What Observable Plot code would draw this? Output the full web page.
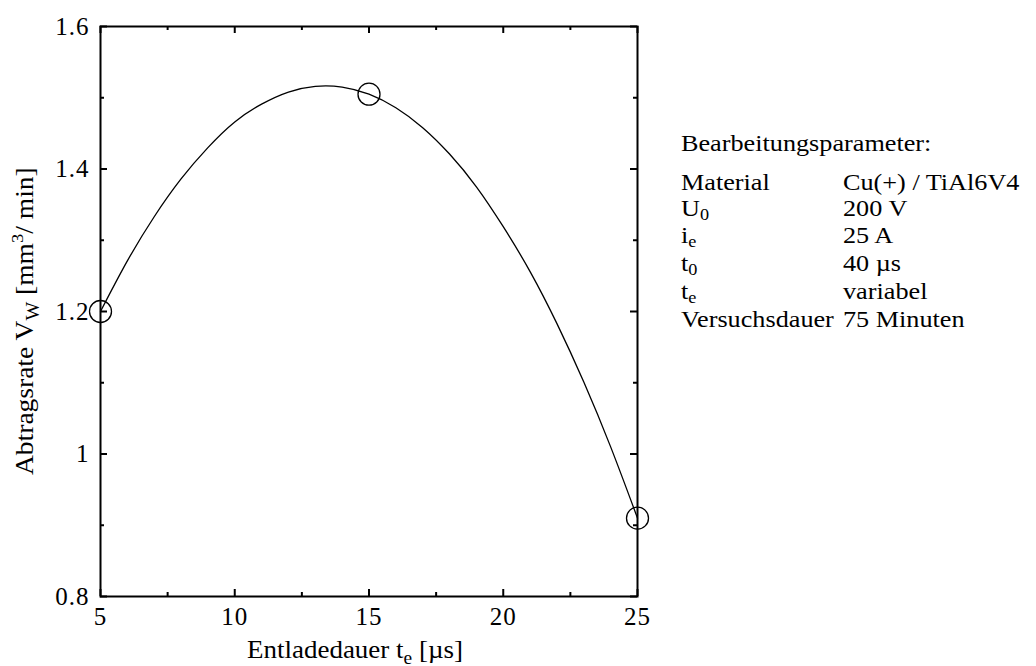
<!DOCTYPE html>
<html>
<head>
<meta charset="utf-8">
<script src="https://cdn.jsdelivr.net/npm/d3@7"></script>
<script src="https://cdn.jsdelivr.net/npm/@observablehq/plot@0.6"></script>
<style>
  html, body { margin: 0; padding: 0; background: #fff; }
  #chart { width: 1036px; height: 666px; }
</style>
</head>
<body>
<div id="chart"></div>
<script>
// Measured removal rate at three discharge durations
const dischargeTime = [5, 15, 25];               // t_e [µs]
const removalRate = [1.2, 1.505, 0.91];           // V_W [mm³/min]

// Fitted trend curve through the measurements
const fitTime = [5, 6, 7, 8, 9, 10, 11, 12, 13, 14, 15, 16, 17, 18, 19, 20, 21, 22, 23, 24, 25];
const fitRate = [1.200, 1.271, 1.333, 1.386, 1.430, 1.466, 1.491, 1.508, 1.516, 1.515, 1.505,
                 1.486, 1.458, 1.421, 1.375, 1.319, 1.256, 1.183, 1.101, 1.010, 0.910];

// Axis ticks
const xMajor = [5, 10, 15, 20, 25];
const xMinor = [7.5, 12.5, 17.5, 22.5];
const yMajor = [0.8, 1, 1.2, 1.4, 1.6];
const yMinor = [0.9, 1.1, 1.3, 1.5];

// Machining parameters listed beside the chart
const paramHeading = "Bearbeitungsparameter:";
const paramName = ["Material", "U", "i", "t", "t", "Versuchsdauer"];
const paramSub = ["", "0", "e", "0", "e", ""];
const paramValue = ["Cu(+) / TiAl6V4", "200 V", "25 A", "40 µs", "variabel", "75 Minuten"];

const W = 1036, H = 666;
const mL = 100, mR = 399, mT = 26, mB = 70;
const frameW = W - mL - mR, frameH = H - mT - mB;
const majorLen = 7, minorLen = 4;
const serif = "'Liberation Serif', 'Times New Roman', Times, serif";

const fit = fitTime.map((t, i) => ({t, v: fitRate[i]}));
const meas = dischargeTime.map((t, i) => ({t, v: removalRate[i]}));

const svg = Plot.plot({
  width: W,
  height: H,
  marginLeft: mL,
  marginRight: mR,
  marginTop: mT,
  marginBottom: mB,
  style: {fontFamily: serif, fontSize: "24px", color: "black", background: "white", overflow: "visible"},
  x: {domain: [5, 25]},
  y: {domain: [0.8, 1.6]},
  marks: [
    // inward ticks on all four sides
    Plot.ruleX(xMajor, {insetTop: frameH - majorLen, strokeWidth: 2}),
    Plot.ruleX(xMinor, {insetTop: frameH - minorLen, strokeWidth: 2}),
    Plot.ruleX(xMajor, {insetBottom: frameH - majorLen, strokeWidth: 2}),
    Plot.ruleX(xMinor, {insetBottom: frameH - minorLen, strokeWidth: 2}),
    Plot.ruleY(yMajor, {insetRight: frameW - majorLen, strokeWidth: 2}),
    Plot.ruleY(yMinor, {insetRight: frameW - minorLen, strokeWidth: 2}),
    Plot.ruleY(yMajor, {insetLeft: frameW - majorLen, strokeWidth: 2}),
    Plot.ruleY(yMinor, {insetLeft: frameW - minorLen, strokeWidth: 2}),
    Plot.axisX({ticks: xMajor, tickSize: 0, tickPadding: 11, label: null, tickFormat: d => String(d), fontSize: 25}),
    Plot.axisY({ticks: yMajor, tickSize: 0, tickPadding: 11, label: null, tickFormat: d => String(d), fontSize: 25}),
    Plot.frame({strokeWidth: 2}),
    Plot.line(fit, {x: "t", y: "v", curve: "natural", stroke: "black", strokeWidth: 1.3}),
    Plot.dot(meas, {x: "t", y: "v", r: 11, stroke: "black", strokeWidth: 1.3, fill: "none"})
  ]
});

const root = d3.select(svg);

// tick labels: slightly wide-set serif digits
root.selectAll("g[aria-label$='tick label'] text")
  .style("font-size", "25px")
  .style("font-family", serif)
  .style("letter-spacing", "1px");

// y-axis title with subscript and superscript
const yLab = root.append("g")
  .attr("transform", "translate(33,475) rotate(-90) scale(1.1,1)")
  .append("text")
  .attr("text-anchor", "start")
  .attr("font-family", serif).attr("font-size", 25).attr("fill", "black");
yLab.append("tspan").text("Abtragsrate V");
yLab.append("tspan").attr("font-size", 18).attr("dy", 6).text("W");
yLab.append("tspan").attr("dy", -6).text(" [mm");
yLab.append("tspan").attr("font-size", 17).attr("dy", -10).text("3");
yLab.append("tspan").attr("dy", 10).text("/ min]");

// x-axis title with subscript
const xLab = root.append("g")
  .attr("transform", "translate(247,658) scale(1.08,1)")
  .append("text")
  .attr("text-anchor", "start")
  .attr("font-family", serif).attr("font-size", 25).attr("fill", "black");
xLab.append("tspan").text("Entladedauer t");
xLab.append("tspan").attr("font-size", 18).attr("dy", 6).text("e");
xLab.append("tspan").attr("dy", -6).text(" [µs]");

// parameter table
const sx = 1.14;
const panel = root.append("g")
  .attr("transform", `translate(681,0) scale(${sx},1)`)
  .attr("text-anchor", "start")
  .attr("font-family", serif).attr("font-size", 23).attr("fill", "black");
panel.append("text").attr("x", 0).attr("y", 151).text(paramHeading);
const rowY = [190, 216, 243, 271, 299, 327];
const valueX = (843 - 681) / sx;
paramName.forEach((name, i) => {
  const t = panel.append("text").attr("x", 0).attr("y", rowY[i]);
  t.append("tspan").text(name);
  if (paramSub[i]) t.append("tspan").attr("font-size", 16).attr("dy", 4).text(paramSub[i]);
  panel.append("text").attr("x", valueX).attr("y", rowY[i]).text(paramValue[i]);
});

document.getElementById("chart").appendChild(svg);
</script>
</body>
</html>
